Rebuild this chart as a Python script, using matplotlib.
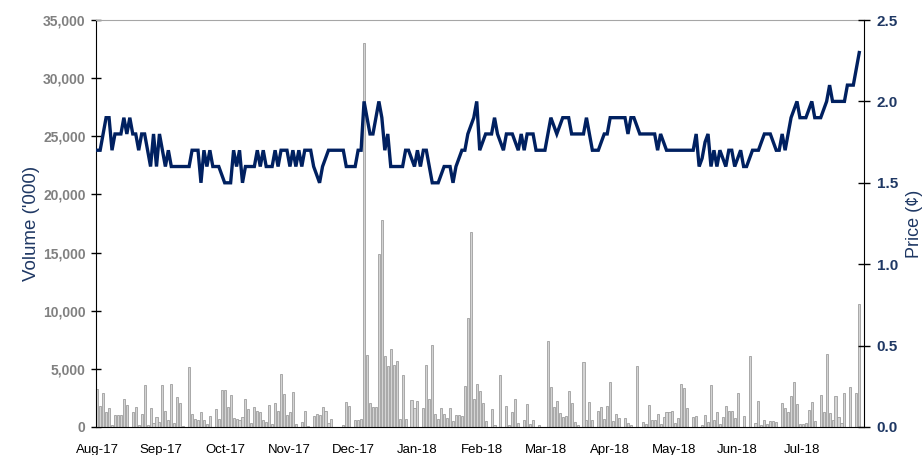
import numpy as np
import matplotlib
matplotlib.use("Agg")
import matplotlib.pyplot as plt
from matplotlib.ticker import FuncFormatter

plt.rcParams['font.family'] = ['Liberation Sans', 'DejaVu Sans']

# Daily volume ('000), in trading-day order
volume = [
    3250, 1800, 2900, 1300, 1650, 150, 1070, 1070, 1070, 2440,
    1860, 0, 1250, 1740, 150, 1160, 3600, 150, 1650, 350,
    870, 430, 3600, 1360, 640, 3680, 350, 2600, 2090, 80,
    0, 5130, 1160, 720, 580, 1300, 640, 290, 930, 0,
    1570, 700, 3190, 3190, 1740, 2730, 780, 725, 640, 870,
    2440, 1570, 350, 1680, 1360, 1300, 640, 430, 1860, 230,
    2090, 1360, 4550, 2800, 1000, 1300, 3050, 230, 0, 435,
    1360, 60, 0, 930, 1160, 990, 1740, 1360, 350, 670,
    0, 0, 0, 200, 2175, 1800, 0, 640, 580, 725,
    33000, 6200, 2090, 1740, 1740, 14900, 17800, 6090, 5220, 6670,
    5360, 5710, 670, 4500, 670, 0, 2320, 1600, 2230, 0,
    1600, 5360, 2400, 7050, 1160, 725, 1650, 1160, 810, 1650,
    520, 1070, 1015, 960, 3540, 9400, 16800, 2400, 3680, 3100,
    2090, 520, 0, 1570, 145, 0, 4440, 0, 1800, 145,
    1330, 2380, 380, 0, 640, 1940, 290, 580, 0, 200,
    0, 0, 7400, 3400, 1740, 2260, 1220, 870, 930, 3100,
    2030, 435, 145, 0, 5570, 640, 2175, 640, 0, 1360,
    1680, 725, 1830, 3830, 520, 1160, 810, 0, 780, 350,
    145, 0, 5220, 0, 435, 290, 1880, 640, 580, 1160,
    290, 870, 1300, 1250, 1360, 350, 780, 3680, 3390, 1650,
    0, 870, 960, 0, 200, 1015, 435, 3570, 640, 1250,
    230, 870, 1830, 1360, 1360, 810, 2900, 0, 960, 0,
    6090, 0, 350, 2260, 200, 640, 230, 520, 520, 435,
    0, 2030, 1600, 1300, 2700, 3860, 1940, 230, 290, 350,
    1500, 2120, 520, 0, 2750, 1300, 6290, 1220, 580, 2670,
    870, 350, 2900, 0, 3420, 0, 2900, 10600,
]

# Daily closing price (cents)
price = [
    1.7, 1.7, 1.8, 1.9, 1.9, 1.7, 1.8, 1.8, 1.8, 1.9,
    1.8, 1.9, 1.8, 1.8, 1.7, 1.8, 1.8, 1.7, 1.6, 1.8,
    1.6, 1.8, 1.7, 1.6, 1.7, 1.6, 1.6, 1.6, 1.6, 1.6,
    1.6, 1.6, 1.7, 1.7, 1.7, 1.5, 1.7, 1.6, 1.7, 1.6,
    1.6, 1.6, 1.55, 1.5, 1.5, 1.5, 1.7, 1.6, 1.7, 1.5,
    1.6, 1.6, 1.6, 1.6, 1.7, 1.6, 1.7, 1.6, 1.6, 1.6,
    1.7, 1.6, 1.7, 1.7, 1.7, 1.6, 1.7, 1.6, 1.7, 1.6,
    1.7, 1.7, 1.7, 1.6, 1.55, 1.5, 1.6, 1.65, 1.7, 1.7,
    1.7, 1.7, 1.7, 1.7, 1.6, 1.6, 1.6, 1.6, 1.7, 1.7,
    2.0, 1.9, 1.8, 1.8, 1.9, 2.0, 1.9, 1.7, 1.8, 1.6,
    1.6, 1.6, 1.6, 1.6, 1.7, 1.7, 1.65, 1.6, 1.7, 1.6,
    1.7, 1.7, 1.6, 1.5, 1.5, 1.5, 1.55, 1.6, 1.6, 1.6,
    1.5, 1.6, 1.65, 1.7, 1.7, 1.8, 1.85, 1.9, 2.0, 1.7,
    1.75, 1.8, 1.8, 1.8, 1.9, 1.8, 1.75, 1.7, 1.8, 1.8,
    1.8, 1.75, 1.7, 1.8, 1.7, 1.8, 1.8, 1.8, 1.7, 1.7,
    1.7, 1.7, 1.8, 1.9, 1.85, 1.8, 1.85, 1.9, 1.9, 1.9,
    1.8, 1.8, 1.8, 1.8, 1.8, 1.9, 1.8, 1.7, 1.7, 1.7,
    1.75, 1.8, 1.8, 1.9, 1.9, 1.9, 1.9, 1.9, 1.9, 1.8,
    1.9, 1.9, 1.85, 1.8, 1.8, 1.8, 1.8, 1.8, 1.8, 1.7,
    1.8, 1.75, 1.7, 1.7, 1.7, 1.7, 1.7, 1.7, 1.7, 1.7,
    1.7, 1.7, 1.8, 1.6, 1.65, 1.75, 1.8, 1.6, 1.7, 1.6,
    1.7, 1.65, 1.6, 1.7, 1.7, 1.6, 1.65, 1.7, 1.6, 1.6,
    1.65, 1.7, 1.7, 1.7, 1.75, 1.8, 1.8, 1.8, 1.75, 1.7,
    1.7, 1.8, 1.7, 1.8, 1.9, 1.95, 2.0, 1.9, 1.9, 1.9,
    1.95, 2.0, 1.9, 1.9, 1.9, 1.95, 2.0, 2.1, 2.0, 2.0,
    2.0, 2.0, 2.0, 2.1, 2.1, 2.1, 2.2, 2.3,
]

month_labels = ['Aug-17', 'Sep-17', 'Oct-17', 'Nov-17', 'Dec-17', 'Jan-18',
                'Feb-18', 'Mar-18', 'Apr-18', 'May-18', 'Jun-18', 'Jul-18']

NAVY = '#1f3864'
LINE = '#002060'
GREY_TXT = '#808080'

n = len(volume)
x = np.arange(n)

fig = plt.figure(figsize=(9.22, 4.55), dpi=100)
ax = fig.add_axes([96/922, 28/455, 768/922, 407/455])
ax.bar(x, volume, width=0.7, color='#d4d4d4', edgecolor='#9e9e9e', linewidth=0.6, zorder=2)
ax.set_xlim(-0.4, n + 0.6)
ax.set_ylim(0, 35000)
ax.set_yticks(np.arange(0, 35001, 5000))
ax.yaxis.set_major_formatter(FuncFormatter(lambda v, p: f"{int(v):,}"))
ax.tick_params(axis='y', direction='inout', length=7, width=1, colors='black',
               labelcolor=GREY_TXT, labelsize=10, pad=4)
for lab in ax.get_yticklabels():
    lab.set_fontweight('bold')
ax.set_xticks(np.arange(len(month_labels)) * 21.6)
ax.set_xticklabels(month_labels, fontsize=9.5, color='black')
ax.tick_params(axis='x', length=0, pad=12)
ax.set_ylabel("Volume ('000)", color=NAVY, fontsize=13.5, labelpad=2)
ax.spines['top'].set_color('#a6a6a6')
ax.spines['left'].set_color('black')
ax.spines['bottom'].set_color('black')
ax.spines['right'].set_visible(False)

ax2 = ax.twinx()
ax2.plot(x, price, color=LINE, linewidth=2.4, solid_joinstyle='miter', zorder=3)
ax2.set_ylim(0, 2.5)
ax2.set_yticks(np.arange(0, 2.51, 0.5))
ax2.yaxis.set_major_formatter(FuncFormatter(lambda v, p: f"{v:.1f}"))
ax2.tick_params(axis='y', direction='inout', length=8, width=1, colors='black',
                labelcolor=NAVY, labelsize=11, pad=5)
for lab in ax2.get_yticklabels():
    lab.set_fontweight('bold')
ax2.set_ylabel("Price (\u00a2)", color=NAVY, fontsize=13, labelpad=6)
ax2.spines['top'].set_visible(False)
ax2.spines['left'].set_visible(False)
ax2.spines['bottom'].set_visible(False)
ax2.spines['right'].set_color('black')

fig.savefig('out.png', dpi=100)
